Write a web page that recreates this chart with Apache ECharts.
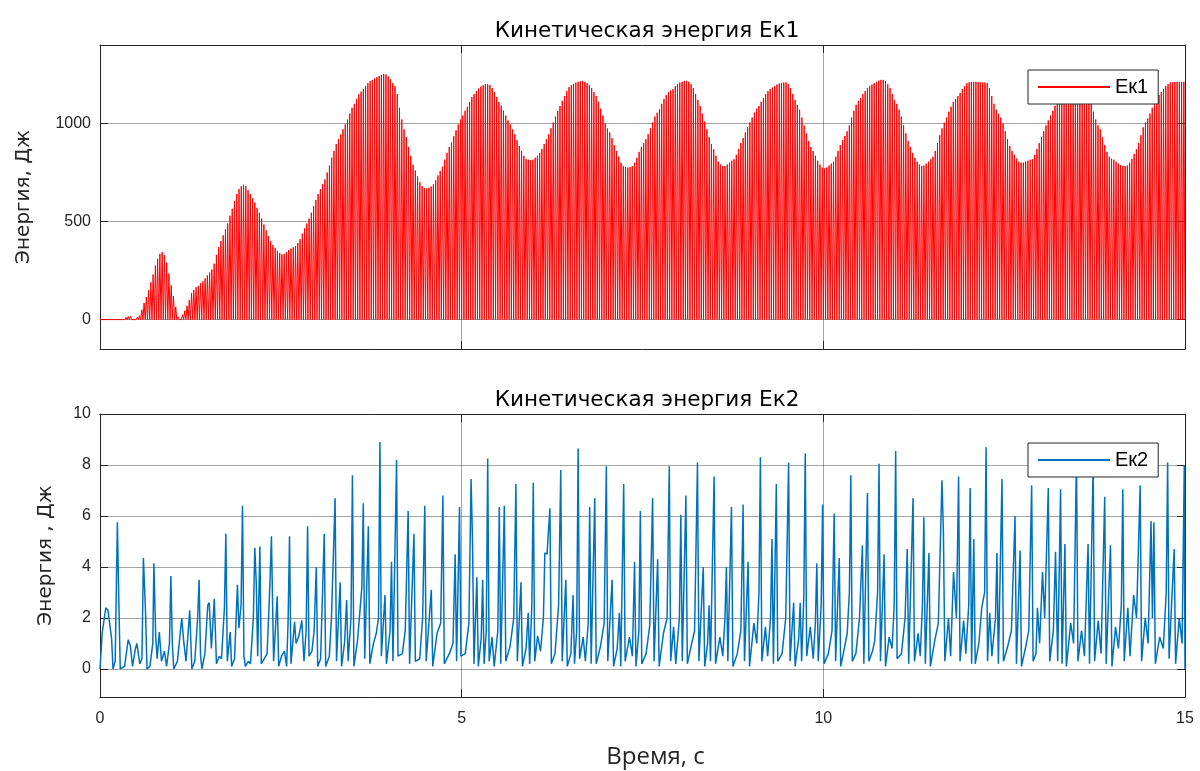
<!DOCTYPE html>
<html>
<head>
<meta charset="utf-8">
<title>Кинетическая энергия</title>
<script src="https://cdn.jsdelivr.net/npm/echarts@6/dist/echarts.min.js"></script>
<style>
  html, body { margin: 0; padding: 0; background: #fff; }
  #chart { width: 1200px; height: 771px; }
</style>
</head>
<body>
<div id="chart"></div>
<script>
// Time axis (seconds) and tick values
const timeTicks = [0, 5, 10, 15];
const ek1Ticks = [0, 500, 1000];
const ek2Ticks = [0, 2, 4, 6, 8, 10];

// Ek1: height of every fast oscillation peak (J), one peak per ek1Step seconds,
// 32 peaks per row = one second of simulation; the energy returns to zero between peaks.
const ek1Step = 1 / 32;
const ek1Peaks = [
  0, 0, 0, 0, 0, 0, 1, 2, 3, 4, 8, 11, 15, 17, 10, 7, 12, 20, 50, 85, 115, 150, 190, 230, 275, 310, 335, 344, 328, 290, 235, 175,
  120, 65, 15, 8, 25, 45, 70, 100, 135, 150, 165, 172, 185, 195, 210, 225, 240, 255, 285, 330, 370, 400, 430, 460, 490, 530, 565, 605, 640, 665, 680, 688,
  680, 660, 640, 618, 597, 570, 545, 515, 485, 455, 425, 400, 380, 365, 350, 340, 332, 335, 345, 355, 362, 368, 375, 390, 410, 438, 465, 490, 515, 545, 578, 610,
  640, 665, 690, 715, 750, 785, 825, 860, 895, 920, 945, 970, 995, 1020, 1050, 1080, 1100, 1125, 1148, 1162, 1175, 1190, 1205, 1215, 1222, 1229, 1236, 1242, 1247, 1251, 1250, 1240,
  1225, 1205, 1190, 1150, 1080, 1020, 970, 930, 880, 835, 790, 760, 730, 700, 680, 670, 668, 672, 678, 690, 710, 735, 758, 780, 815, 850, 880, 903, 935, 965, 995, 1020,
  1040, 1065, 1085, 1110, 1135, 1150, 1165, 1178, 1188, 1195, 1200, 1200, 1195, 1180, 1160, 1135, 1110, 1090, 1065, 1040, 1015, 995, 970, 945, 915, 885, 860, 835, 818, 815, 812, 815,
  825, 835, 850, 870, 895, 919, 945, 975, 1005, 1035, 1065, 1089, 1115, 1140, 1165, 1185, 1195, 1202, 1208, 1212, 1215, 1217, 1212, 1205, 1195, 1180, 1160, 1140, 1110, 1075, 1040, 1000,
  975, 954, 925, 890, 860, 830, 800, 783, 778, 775, 778, 783, 800, 825, 855, 880, 900, 919, 945, 975, 1005, 1035, 1055, 1072, 1100, 1125, 1145, 1160, 1168, 1175, 1190, 1200,
  1208, 1212, 1217, 1217, 1212, 1200, 1180, 1150, 1120, 1089, 1050, 1010, 970, 930, 895, 868, 835, 805, 790, 783, 783, 790, 800, 810, 817, 840, 870, 900, 925, 954, 980, 1005,
  1030, 1055, 1075, 1089, 1110, 1130, 1150, 1165, 1175, 1183, 1190, 1198, 1203, 1207, 1209, 1209, 1200, 1180, 1150, 1120, 1095, 1070, 1030, 990, 950, 910, 880, 860, 835, 810, 790, 775,
  770, 775, 785, 795, 805, 830, 860, 890, 915, 936, 960, 990, 1030, 1065, 1095, 1115, 1130, 1150, 1165, 1180, 1190, 1198, 1205, 1212, 1218, 1222, 1222, 1215, 1200, 1180, 1150, 1120,
  1100, 1070, 1035, 990, 950, 910, 880, 850, 825, 805, 790, 783, 785, 795, 805, 817, 830, 860, 900, 940, 975, 1004, 1030, 1060, 1085, 1110, 1125, 1140, 1155, 1175, 1190, 1205,
  1210, 1212, 1212, 1212, 1210, 1209, 1209, 1209, 1205, 1180, 1140, 1100, 1070, 1050, 1030, 1000, 960, 920, 885, 860, 840, 820, 805, 800, 800, 805, 810, 815, 817, 840, 870, 900,
  930, 960, 990, 1015, 1040, 1065, 1090, 1110, 1124, 1135, 1145, 1150, 1158, 1162, 1165, 1165, 1163, 1160, 1158, 1155, 1150, 1130, 1100, 1060, 1020, 990, 970, 930, 890, 855, 830, 820,
  815, 805, 795, 788, 783, 783, 785, 800, 820, 845, 868, 900, 940, 980, 1005, 1025, 1050, 1080, 1105, 1125, 1145, 1160, 1175, 1190, 1200, 1209, 1210, 1211, 1212, 1212, 1212, 1212
];

// Ek2: [time s, energy J] vertices of the trace
const ek2Points = [
  [0.00,0.0],[0.03,1.4],[0.08,2.4],[0.11,2.3],[0.16,1.2],[0.18,0.0],[0.21,0.3],[0.24,5.75],[0.26,2.7],[0.28,0.0],
  [0.34,0.1],[0.39,1.15],[0.42,0.9],[0.45,0.1],[0.49,0.8],[0.51,1.0],[0.55,0.2],[0.58,0.4],[0.60,4.35],[0.63,2.2],
  [0.65,0.0],[0.69,0.1],[0.73,1.0],[0.745,4.15],[0.77,1.3],[0.79,0.4],[0.82,1.45],[0.85,0.3],[0.89,0.7],[0.92,0.1],
  [0.96,1.0],[0.98,3.65],[1.00,1.0],[1.02,0.0],[1.07,0.3],[1.13,2.0],[1.16,1.0],[1.19,0.3],[1.24,2.3],[1.27,0.0],
  [1.31,0.3],[1.35,2.0],[1.37,3.5],[1.39,0.5],[1.41,0.0],[1.45,0.6],[1.49,2.5],[1.51,2.6],[1.54,0.8],[1.58,2.75],
  [1.61,0.2],[1.65,0.5],[1.68,0.4],[1.72,2.4],[1.74,5.3],[1.76,0.3],[1.80,1.45],[1.82,0.1],[1.86,0.4],[1.90,3.3],
  [1.92,1.6],[1.95,2.5],[1.97,6.4],[1.99,0.5],[2.01,0.1],[2.05,0.3],[2.08,0.2],[2.12,2.0],[2.14,4.75],[2.16,3.4],
  [2.18,0.5],[2.21,4.8],[2.23,0.2],[2.27,0.4],[2.31,0.6],[2.35,3.4],[2.37,5.2],[2.40,0.3],[2.45,2.85],[2.47,0.1],
  [2.51,0.5],[2.55,0.7],[2.58,0.1],[2.60,1.8],[2.62,5.2],[2.64,0.2],[2.69,1.85],[2.71,1.0],[2.75,1.3],[2.79,1.9],
  [2.82,0.3],[2.85,1.5],[2.87,5.6],[2.89,0.5],[2.93,0.7],[2.96,1.5],[2.99,4.0],[3.01,0.1],[3.05,0.4],[3.10,5.3],
  [3.12,0.1],[3.17,0.5],[3.20,2.0],[3.25,6.7],[3.27,0.3],[3.32,3.4],[3.34,0.1],[3.38,1.0],[3.41,2.7],[3.43,0.3],
  [3.47,2.0],[3.49,7.6],[3.51,0.1],[3.56,1.1],[3.62,3.2],[3.64,6.5],[3.66,0.4],[3.71,5.6],[3.73,0.2],[3.78,1.0],
  [3.82,1.4],[3.85,2.0],[3.87,8.9],[3.89,0.5],[3.94,2.9],[3.96,0.2],[4.01,1.5],[4.03,4.2],[4.05,0.3],[4.10,8.2],
  [4.12,0.5],[4.18,0.6],[4.22,1.5],[4.26,6.2],[4.28,0.2],[4.34,5.3],[4.36,0.3],[4.42,0.4],[4.46,2.0],[4.49,6.4],
  [4.51,0.3],[4.58,3.1],[4.60,0.1],[4.66,1.4],[4.71,1.8],[4.74,6.8],[4.76,0.2],[4.83,0.6],[4.88,1.0],[4.91,4.5],
  [4.93,0.3],[4.97,6.35],[4.99,0.5],[5.05,0.6],[5.10,1.8],[5.13,7.45],[5.15,5.0],[5.17,0.2],[5.21,3.6],[5.23,0.1],
  [5.27,1.2],[5.29,3.5],[5.31,0.2],[5.34,1.5],[5.36,8.25],[5.38,0.3],[5.42,1.25],[5.45,0.1],[5.50,1.5],[5.52,6.35],
  [5.54,0.2],[5.59,6.4],[5.61,0.3],[5.67,0.9],[5.72,2.0],[5.75,7.25],[5.77,0.3],[5.82,3.4],[5.84,0.1],[5.89,0.8],
  [5.92,2.2],[5.94,0.2],[5.97,2.5],[5.99,7.3],[6.01,0.3],[6.05,1.3],[6.09,0.7],[6.13,2.0],[6.15,4.55],[6.18,4.5],
  [6.22,6.3],[6.24,0.2],[6.29,0.6],[6.34,2.5],[6.37,7.8],[6.39,0.3],[6.44,3.5],[6.46,0.1],[6.51,0.6],[6.54,2.9],
  [6.56,0.2],[6.59,1.5],[6.61,8.65],[6.63,0.4],[6.68,1.25],[6.71,0.3],[6.75,1.8],[6.77,6.35],[6.79,0.2],[6.84,6.7],
  [6.86,0.2],[6.92,0.9],[6.97,1.8],[7.00,7.95],[7.02,0.3],[7.08,3.5],[7.10,0.1],[7.15,0.8],[7.18,2.2],[7.20,0.1],
  [7.24,7.25],[7.26,0.3],[7.32,1.25],[7.36,0.5],[7.39,4.2],[7.41,0.1],[7.45,1.5],[7.47,6.2],[7.49,0.2],[7.55,0.6],
  [7.60,1.7],[7.64,6.7],[7.66,0.3],[7.71,4.3],[7.73,0.1],[7.79,1.4],[7.84,2.0],[7.87,7.95],[7.89,0.3],[7.93,1.65],
  [7.96,0.2],[8.01,2.0],[8.03,6.05],[8.05,0.3],[8.10,6.8],[8.12,0.2],[8.18,1.0],[8.22,1.5],[8.26,8.1],[8.28,0.3],
  [8.34,4.0],[8.36,0.1],[8.40,1.0],[8.42,2.5],[8.44,0.3],[8.49,7.55],[8.51,0.2],[8.57,1.25],[8.61,0.5],[8.64,2.0],
  [8.66,4.0],[8.68,0.3],[8.73,6.35],[8.75,0.1],[8.81,0.6],[8.86,1.5],[8.89,6.45],[8.91,0.3],[8.96,4.2],[8.98,0.1],
  [9.04,1.8],[9.08,1.0],[9.11,3.0],[9.13,8.3],[9.15,0.3],[9.20,1.65],[9.23,0.5],[9.27,2.0],[9.29,5.1],[9.31,0.2],
  [9.35,7.25],[9.37,0.3],[9.43,0.6],[9.48,2.0],[9.52,8.1],[9.54,0.3],[9.59,2.6],[9.61,0.1],[9.66,1.2],[9.68,2.6],
  [9.70,0.3],[9.73,2.8],[9.75,8.45],[9.77,0.5],[9.82,1.65],[9.86,0.4],[9.89,1.8],[9.91,4.15],[9.93,0.3],[9.97,2.5],
  [9.99,6.45],[10.01,0.2],[10.07,0.6],[10.12,1.5],[10.15,6.1],[10.17,0.3],[10.22,4.35],[10.24,0.1],[10.29,0.8],[10.33,1.4],
  [10.36,3.0],[10.38,7.6],[10.40,0.3],[10.45,0.6],[10.50,2.0],[10.54,4.85],[10.56,0.2],[10.61,6.9],[10.63,0.3],[10.68,0.7],
  [10.71,1.1],[10.75,3.0],[10.77,8.05],[10.79,0.3],[10.84,4.5],[10.86,0.1],[10.91,1.25],[10.95,0.8],[10.98,2.5],[11.00,8.55],
  [11.02,0.4],[11.08,0.6],[11.13,2.0],[11.16,4.7],[11.18,0.2],[11.24,6.7],[11.26,0.3],[11.31,1.4],[11.34,0.5],[11.37,2.5],
  [11.39,5.95],[11.41,0.2],[11.46,4.55],[11.48,0.1],[11.54,1.1],[11.59,1.8],[11.64,7.4],[11.66,5.4],[11.68,0.3],[11.73,2.0],
  [11.76,0.5],[11.80,3.8],[11.84,2.0],[11.87,7.55],[11.89,0.3],[11.94,1.9],[11.97,0.6],[12.01,2.5],[12.03,7.1],[12.05,0.2],
  [12.08,5.1],[12.10,0.2],[12.15,1.0],[12.19,2.4],[12.23,3.0],[12.25,8.7],[12.27,0.3],[12.30,2.2],[12.33,0.5],[12.38,2.0],
  [12.40,4.55],[12.42,0.2],[12.47,7.45],[12.49,0.3],[12.55,0.9],[12.60,1.5],[12.65,6.0],[12.67,0.2],[12.72,4.65],[12.74,0.1],
  [12.80,0.9],[12.84,1.5],[12.88,7.2],[12.90,0.3],[12.94,0.6],[12.96,2.4],[12.99,1.0],[13.03,3.8],[13.06,2.0],[13.11,7.1],
  [13.13,0.3],[13.18,1.5],[13.21,4.6],[13.24,0.3],[13.28,7.05],[13.30,0.2],[13.34,4.9],[13.36,0.1],[13.42,1.8],[13.46,1.0],
  [13.50,8.3],[13.52,0.3],[13.57,1.5],[13.61,0.5],[13.66,4.9],[13.68,0.2],[13.73,8.0],[13.75,0.3],[13.80,1.9],[13.84,0.6],
  [13.89,6.75],[13.91,0.2],[13.97,4.85],[13.99,0.1],[14.04,1.65],[14.08,0.8],[14.12,2.5],[14.14,7.05],[14.16,0.3],[14.21,2.4],
  [14.24,0.5],[14.29,2.9],[14.33,2.0],[14.38,7.2],[14.40,0.3],[14.45,2.0],[14.49,1.0],[14.53,5.8],[14.55,2.0],[14.57,5.75],
  [14.59,0.2],[14.65,1.25],[14.70,0.8],[14.74,3.0],[14.76,8.1],[14.78,0.4],[14.85,4.7],[14.87,0.2],[14.92,2.0],[14.96,1.0],
  [14.99,8.0],[15.00,0.0]
];

// Ek1 trace: peak of each oscillation, then back to zero
const ek1Data = [[0, 0]];
ek1Peaks.forEach((p, i) => {
  ek1Data.push([(i + 0.5) * ek1Step, p]);
  ek1Data.push([(i + 1) * ek1Step, 0]);
});

const AX = '#262626';
const GRID = 'rgba(38,38,38,0.42)';
const FONT = 'Liberation Sans';
const LABEL_FONT = 'DejaVu Sans';

function timeAxis(gridIndex, opts) {
  return Object.assign({
    type: 'value', gridIndex, min: 0, max: 15, interval: 5,
    axisLine: { show: true, onZero: false, lineStyle: { color: AX, width: 1 } },
    axisTick: { show: true, inside: true, length: 8, lineStyle: { color: AX } },
    axisLabel: { show: false },
    splitLine: { show: false }
  }, opts);
}
function energyAxis(gridIndex, min, max, ticks, opts) {
  return Object.assign({
    type: 'value', gridIndex, min, max,
    axisLine: { show: true, onZero: false, lineStyle: { color: AX, width: 1 } },
    axisTick: { show: true, inside: true, length: 8, customValues: ticks, lineStyle: { color: AX } },
    axisLabel: { show: false, customValues: ticks },
    splitLine: { show: false }
  }, opts);
}
const tickLabel = ticks => ({
  show: true, customValues: ticks, margin: 9, fontFamily: FONT, fontSize: 16, color: AX,
  formatter: v => String(v)
});
const legendBox = (name, top) => ({
  data: [name], left: 1028, top, orient: 'horizontal', icon: 'rect',
  itemWidth: 72, itemHeight: 2, itemGap: 6, padding: [7, 10, 7, 10],
  backgroundColor: '#fff', borderColor: AX, borderWidth: 1, borderRadius: 0,
  textStyle: { fontFamily: FONT, fontSize: 20, color: '#000' }
});
const titleText = (text, top) => ({
  text, left: 642, top, textAlign: 'center',
  textStyle: { fontFamily: LABEL_FONT, fontSize: 21.5, fontWeight: 'normal', color: '#000' }
});

const chart = echarts.init(document.getElementById('chart'), null, { renderer: 'canvas' });
chart.setOption({
  animation: false,
  backgroundColor: '#fff',
  textStyle: { fontFamily: FONT },
  title: [titleText('Кинетическая энергия Ек1', 15), titleText('Кинетическая энергия Ек2', 384)],
  legend: [legendBox('Ек1', 70), legendBox('Ек2', 443)],
  grid: [
    { left: 100, right: 15, top: 45, height: 304 },
    { left: 100, right: 15, top: 414, height: 283 }
  ],
  xAxis: [
    timeAxis(0, { splitLine: { show: true, lineStyle: { color: GRID, width: 1 } } }),
    timeAxis(1, {
      splitLine: { show: true, lineStyle: { color: GRID, width: 1 } },
      axisLabel: { show: true, margin: 14, fontFamily: FONT, fontSize: 16, color: AX,
        formatter: v => timeTicks.includes(v) ? String(v) : '' },
      name: 'Время, с', nameLocation: 'middle', nameGap: 48,
      nameTextStyle: { fontFamily: 'Open Sans', fontSize: 24, color: AX, padding: [0, 0, 0, 26] }
    }),
    timeAxis(0, { position: 'top' }),
    timeAxis(1, { position: 'top' })
  ],
  yAxis: [
    energyAxis(0, -150, 1400, ek1Ticks, {
      axisLabel: tickLabel(ek1Ticks),
      splitLine: { show: true, lineStyle: { color: GRID, width: 1 } },
      name: 'Энергия, Дж', nameLocation: 'middle', nameGap: 66, nameRotate: 90,
      nameTextStyle: { fontFamily: LABEL_FONT, fontSize: 20, color: AX }
    }),
    energyAxis(1, -1.1, 10, ek2Ticks, {
      axisLabel: tickLabel(ek2Ticks),
      splitLine: { show: true, lineStyle: { color: GRID, width: 1 } },
      name: 'Энергия , Дж', nameLocation: 'middle', nameGap: 44, nameRotate: 90,
      nameTextStyle: { fontFamily: LABEL_FONT, fontSize: 20, color: AX }
    }),
    energyAxis(0, -150, 1400, ek1Ticks, { position: 'right' }),
    energyAxis(1, -1.1, 10, ek2Ticks, { position: 'right' })
  ],
  series: [
    { name: 'Ек1', type: 'line', xAxisIndex: 0, yAxisIndex: 0, data: ek1Data,
      showSymbol: false, symbol: 'none', sampling: false, clip: true,
      lineStyle: { color: '#ff0000', width: 1 }, itemStyle: { color: '#ff0000' } },
    { name: 'Ек2', type: 'line', xAxisIndex: 1, yAxisIndex: 1, data: ek2Points,
      showSymbol: false, symbol: 'none', clip: true,
      lineStyle: { color: '#0072bd', width: 1.5 }, itemStyle: { color: '#0072bd' } }
  ]
});
</script>
</body>
</html>
